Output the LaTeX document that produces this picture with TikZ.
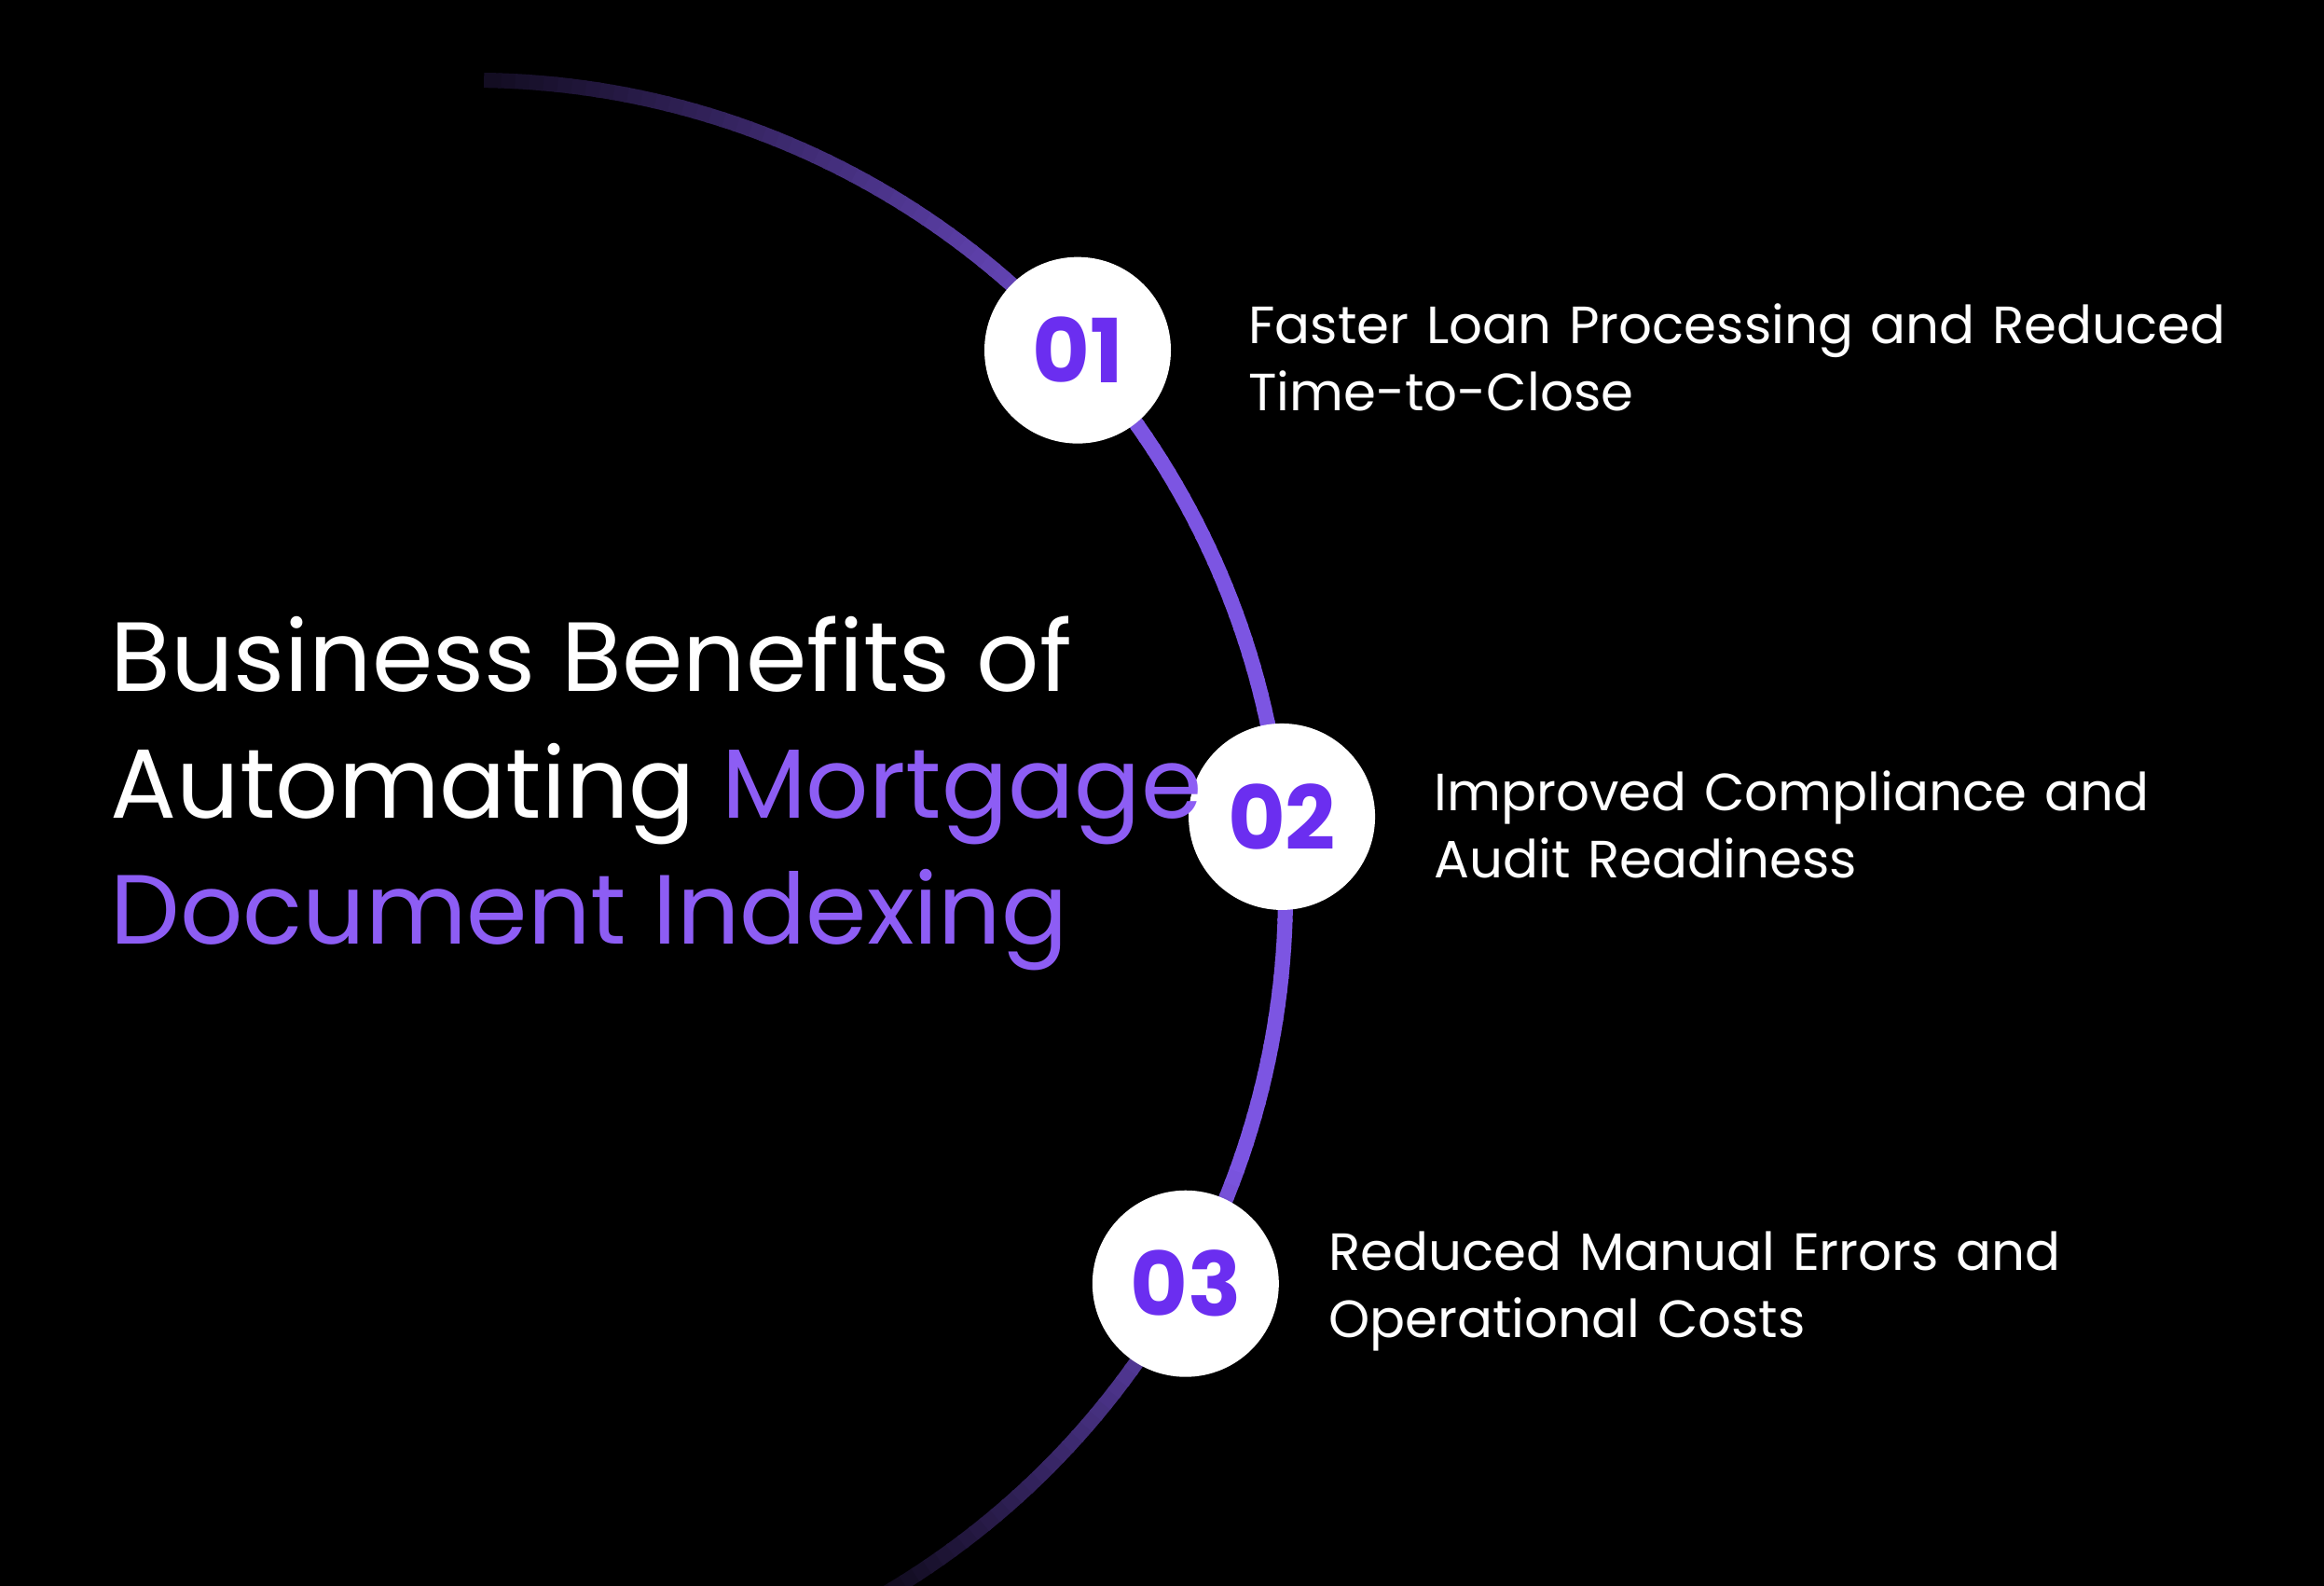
\documentclass[tikz,border=0pt]{standalone}
\usepackage{fontspec}
\setmainfont{Poppins}
\usetikzlibrary{positioning}
\definecolor{arcpurple}{HTML}{7C55E2}
\definecolor{numpurple}{HTML}{6B2EF0}
\definecolor{titlepurple}{HTML}{8D5DF4}
\tikzset{
  badge/.style={circle,fill=white,minimum size=2cm,inner sep=0pt,font=\fontsize{27}{27}\selectfont\bfseries,text=numpurple},
  item/.style={text=white,align=left,text width=11cm,font=\fontsize{16}{20.5}\selectfont\mdseries,inner sep=0pt}
}
\begin{document}
\begin{tikzpicture}
    \fill[black] (0,0) rectangle (24.93,17.01);
    \useasboundingbox (0,0) rectangle (24.93,17.01);
    \coordinate (c) at (5.07,7.43);
    % arc, fading at both ends
    \foreach \a in {-62,...,88}{
        \pgfmathsetmacro\t{\a<-20 ? max(5,100-(-20-\a)*2.2) : (\a>35 ? max(5,100-(\a-35)*1.6) : 100)}
        \draw[arcpurple!\t!black,line width=4.6pt] ([shift={(\a:8.72)}]c) arc[start angle=\a,end angle=\a+1.2,radius=8.72];
    }
    \node[badge] (n1) at ([shift={(41.9:8.72)}]c) {01};
    \node[badge] (n2) at ([shift={(5.4:8.72)}]c) {02};
    \node[badge] (n3) at ([shift={(-28.7:8.72)}]c) {03};
    \node[item,right=0.82cm of n1,yshift=-0.08cm] (t1) {Faster Loan Processing and Reduced\\Time-to-Close};
    \node[item,right=0.62cm of n2,yshift=-0.08cm] (t2) {Improved Compliance and\\Audit Readiness};
    \node[item,right=0.52cm of n3,yshift=-0.08cm] (t3) {Reduced Manual Errors and\\Operational Costs};
    \node[anchor=west,align=left,text=white,inner sep=0pt,font=\fontsize{30}{38.5}\selectfont\mdseries] (title) at (1.18,8.5)
        {Business Benefits of\\Automating \textcolor{titlepurple}{Mortgage}\\\textcolor{titlepurple}{Document Indexing}};
\end{tikzpicture}
\end{document}
